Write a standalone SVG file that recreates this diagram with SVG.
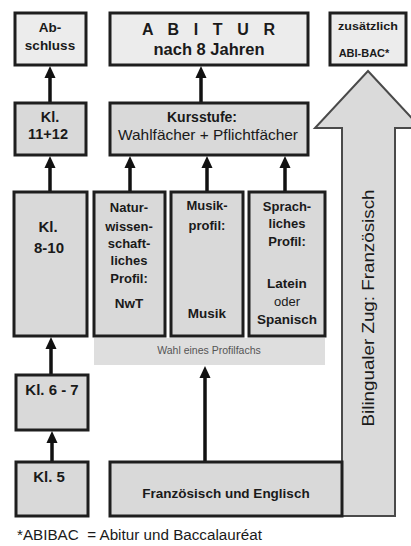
<svg xmlns="http://www.w3.org/2000/svg" width="411" height="546" viewBox="0 0 411 546">
<defs>
<style>
.box{stroke:#1e1e1e;stroke-width:3}
.lt{fill:#ececec}
.dk{fill:#d9d9d9}
.t{font-family:"Liberation Sans",Arial,sans-serif;fill:#1a1a1a;text-anchor:middle}
.b{font-weight:bold}
.conn{stroke:#111;stroke-width:3.5;fill:none}
</style>
<marker id="ah" markerUnits="userSpaceOnUse" markerWidth="12" markerHeight="13" viewBox="0 0 13 12" refX="0" refY="6" orient="auto">
<path d="M0,0 L13,6 L0,12 z" fill="#111"/>
</marker>
</defs>
<rect width="411" height="546" fill="#ffffff"/>

<g id="bilingual">
<polygon points="368,71 421,128 395,128 395,516 342,516 342,128 315,128" fill="#dadada" stroke="#4a4a4a" stroke-width="2"/>
<text class="t" transform="translate(374,308) rotate(-90)" font-size="17" textLength="237" lengthAdjust="spacingAndGlyphs">Bilingualer Zug: Französisch</text>
</g>

<g id="connectors">
<line class="conn" x1="50" y1="103" x2="50" y2="78" marker-end="url(#ah)"/>
<line class="conn" x1="50" y1="192" x2="50" y2="168" marker-end="url(#ah)"/>
<line class="conn" x1="51" y1="375" x2="51" y2="349" marker-end="url(#ah)"/>
<line class="conn" x1="52" y1="462" x2="52" y2="443" marker-end="url(#ah)"/>
<line class="conn" x1="201" y1="103" x2="201" y2="78" marker-end="url(#ah)"/>
<line class="conn" x1="130" y1="192" x2="130" y2="168" marker-end="url(#ah)"/>
<line class="conn" x1="207" y1="192" x2="207" y2="168" marker-end="url(#ah)"/>
<line class="conn" x1="285" y1="192" x2="285" y2="168" marker-end="url(#ah)"/>
<line class="conn" x1="205" y1="462" x2="205" y2="378" marker-end="url(#ah)"/>
</g>

<g id="abschluss">
<rect class="box lt" x="15" y="13" width="71" height="52"/>
<text class="t b" x="50" y="32" font-size="13.5">Ab-</text>
<text class="t b" x="50" y="50" font-size="13.5">schluss</text>
</g>

<g id="abitur">
<rect class="box lt" x="110" y="13" width="198" height="52"/>
<text class="t b" x="142" y="35" font-size="16" style="text-anchor:start" textLength="133" lengthAdjust="spacing">A B I T U R</text>
<text class="t b" x="209" y="55" font-size="16.5">nach 8 Jahren</text>
</g>

<g id="zusaetzlich">
<rect class="box lt" x="330" y="13" width="76" height="52"/>
<text class="t b" x="368" y="30" font-size="11" textLength="60" lengthAdjust="spacingAndGlyphs">zusätzlich</text>
<text class="t b" x="364" y="57" font-size="11">ABI-BAC*</text>
</g>

<g id="kl1112">
<rect class="box dk" x="15" y="103" width="71" height="52"/>
<text class="t b" x="50" y="122" font-size="14.5">Kl.</text>
<text class="t b" x="48" y="139" font-size="14.5">11+12</text>
</g>

<g id="kursstufe">
<rect class="box dk" x="110" y="103" width="198" height="52"/>
<text class="t b" x="202" y="122" font-size="14">Kursstufe:</text>
<text class="t" x="208" y="140" font-size="14.5" textLength="180" lengthAdjust="spacingAndGlyphs">Wahlfächer + Pflichtfächer</text>
</g>

<g id="kl810">
<rect class="box dk" x="14" y="192" width="73" height="144"/>
<text class="t b" x="48" y="232" font-size="15">Kl.</text>
<text class="t b" x="49" y="253" font-size="15">8-10</text>
</g>

<g id="natur">
<rect class="box dk" x="94" y="192" width="71" height="144"/>
<text class="t b" x="129" y="212" font-size="13">Natur-</text>
<text class="t b" x="129" y="231" font-size="13">wissen-</text>
<text class="t b" x="129" y="248" font-size="13">schaft-</text>
<text class="t b" x="129" y="265" font-size="13">liches</text>
<text class="t b" x="129" y="283" font-size="13">Profil:</text>
<text class="t b" x="129" y="308" font-size="13.5">NwT</text>
</g>

<g id="musik">
<rect class="box dk" x="171" y="192" width="72" height="144"/>
<text class="t b" x="207" y="210" font-size="13">Musik-</text>
<text class="t b" x="207" y="230" font-size="13">profil:</text>
<text class="t b" x="207" y="318" font-size="13.5">Musik</text>
</g>

<g id="sprach">
<rect class="box dk" x="249" y="192" width="76" height="144"/>
<text class="t b" x="287" y="211" font-size="13">Sprach-</text>
<text class="t b" x="287" y="228" font-size="13">liches</text>
<text class="t b" x="287" y="246" font-size="13">Profil:</text>
<text class="t b" x="287" y="288" font-size="13.5">Latein</text>
<text class="t" x="287" y="306" font-size="13" fill="#333">oder</text>
<text class="t b" x="287" y="324" font-size="13.5">Spanisch</text>
</g>

<g id="wahl">
<rect x="94" y="338" width="231" height="27" fill="#dedede"/>
<text class="t" x="209" y="354" font-size="10.5" style="fill:#555">Wahl eines Profilfachs</text>
</g>

<g id="kl67">
<rect class="box dk" x="16" y="375" width="72" height="55"/>
<text class="t b" x="52" y="395" font-size="15">Kl. 6 - 7</text>
</g>

<g id="kl5">
<rect class="box dk" x="16" y="462" width="72" height="54"/>
<text class="t b" x="49" y="482" font-size="15">Kl. 5</text>
</g>

<g id="franz">
<rect class="box dk" x="110" y="462" width="232" height="54"/>
<text class="t b" x="226" y="498" font-size="13.5">Französisch und Englisch</text>
</g>

<text class="t" x="17" y="540" font-size="14" xml:space="preserve" style="text-anchor:start" textLength="245" lengthAdjust="spacingAndGlyphs">*ABIBAC  = Abitur und Baccalauréat</text>
</svg>
